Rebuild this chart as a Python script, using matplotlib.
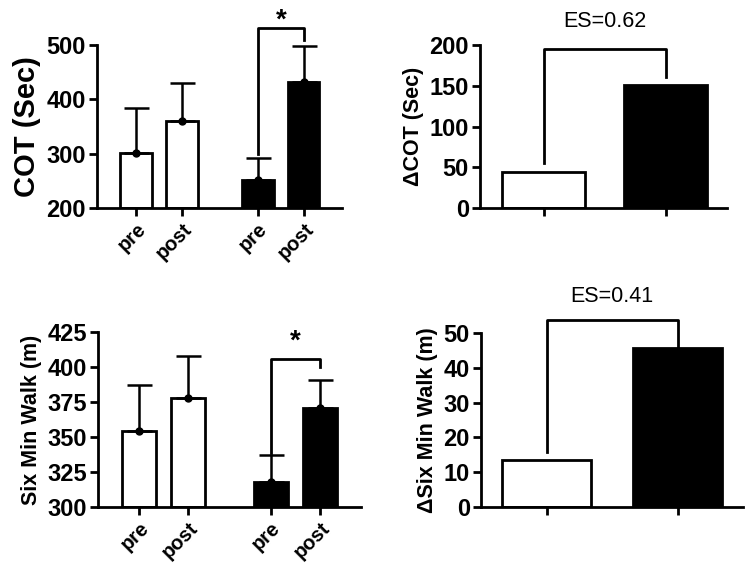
import matplotlib.pyplot as plt

plt.rcParams['font.family'] = ['Liberation Sans', 'DejaVu Sans']

# data
labels = ["pre", "post", "pre", "post"]
colors = ["white", "white", "black", "black"]

cot_mean = [301, 360, 251, 432]
cot_err = [83, 70, 41, 66]
walk_mean = [354, 378, 318, 371]
walk_err = [33, 30, 19, 20]

dcot = [44, 151]
dwalk = [13.5, 45.7]
es_cot = "ES=0.62"
es_walk = "ES=0.41"

W, H = 749, 574
fig = plt.figure(figsize=(W / 100, H / 100), dpi=100)


def box(x0, x1, ytop, ybot):
    return [x0 / W, 1 - ybot / H, (x1 - x0) / W, (ybot - ytop) / H]


def style(ax):
    for s in ["top", "right"]:
        ax.spines[s].set_visible(False)
    for s in ["left", "bottom"]:
        ax.spines[s].set_linewidth(2)
    ax.tick_params(width=2, length=6, labelsize=17, pad=2)
    for t in ax.get_yticklabels():
        t.set_fontweight("bold")


def prepost(ax, pos, mean, err, ylim, yticks, ylabel, ylsize, xlim):
    ax.bar(pos, [m - ylim[0] for m in mean], bottom=ylim[0], width=0.68,
           color=colors, edgecolor="black", linewidth=2, zorder=2)
    for p, m, e in zip(pos, mean, err):
        ax.errorbar(p, m, yerr=[[0], [e]], fmt="o", color="black", ms=5,
                    elinewidth=1.8, capsize=9, capthick=1.8, zorder=3)
    ax.set_ylim(*ylim)
    ax.set_xlim(*xlim)
    ax.set_yticks(yticks)
    ax.set_xticks(pos)
    ax.set_xticklabels(labels, rotation=45, ha="right", rotation_mode="anchor",
                       fontweight="bold", fontsize=14.5)
    ax.set_ylabel(ylabel, fontweight="bold", fontsize=ylsize, labelpad=4)
    style(ax)
    ax.tick_params(axis="x", labelsize=14.5)


def delta(ax, vals, ylim, yticks, ylabel, xlim):
    ax.bar([0, 1], vals, width=0.68, color=["white", "black"],
           edgecolor="black", linewidth=2, zorder=2)
    ax.set_ylim(*ylim)
    ax.set_xlim(*xlim)
    ax.set_yticks(yticks)
    ax.set_xticks([0, 1])
    ax.set_xticklabels(["", ""])
    ax.set_ylabel(ylabel, fontweight="bold", fontsize=15.5, labelpad=4)
    style(ax)


def bracket(ax, x0, x1, y, yl, yr, text, ty, bold, fs):
    ax.plot([x0, x0, x1, x1], [yl, y, y, yr], color="black", lw=2,
            clip_on=False, zorder=4)
    ax.text((x0 + x1) / 2, ty, text, ha="center", va="center",
            fontsize=fs, fontweight="bold" if bold else "normal", clip_on=False)


# top left
ax1 = fig.add_axes(box(97, 342, 45, 208))
pos1 = [0, 1, 2.65, 3.65]
prepost(ax1, pos1, cot_mean, cot_err, (200, 500), [200, 300, 400, 500],
        "COT (Sec)", 21, (-0.85, 4.48))
bracket(ax1, pos1[2], pos1[3], 532, 300, 510, "*", 545, True, 20)

# top right
ax2 = fig.add_axes(box(480, 727, 45, 208))
delta(ax2, dcot, (0, 200), [0, 50, 100, 150, 200], "\u0394COT (Sec)",
      (-0.52, 1.5))
bracket(ax2, 0, 1, 195, 55, 161, es_cot, 229, False, 15.5)

# bottom left
ax3 = fig.add_axes(box(98, 361, 332, 507))
pos3 = [0, 1, 2.69, 3.69]
prepost(ax3, pos3, walk_mean, walk_err, (300, 425),
        [300, 325, 350, 375, 400, 425], "Six Min Walk (m)", 15.5, (-0.84, 4.53))
bracket(ax3, pos3[2], pos3[3], 405.5, 338.5, 400, "*", 418, True, 20)

# bottom right
ax4 = fig.add_axes(box(481, 743, 333, 507))
delta(ax4, dwalk, (0, 50), [0, 10, 20, 30, 40, 50], "\u0394Six Min Walk (m)",
      (-0.5, 1.5))
bracket(ax4, 0, 1, 53.7, 15.8, 45.7, es_walk, 60.5, False, 15.5)

fig.savefig("out.png", dpi=100)
